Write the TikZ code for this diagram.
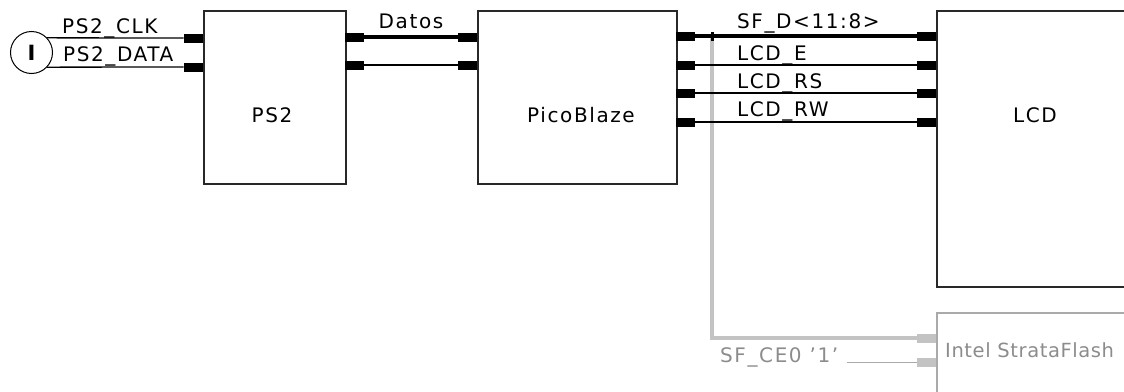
\documentclass[tikz,border=0pt]{standalone}
\usepackage{fontspec}
\setmainfont{DejaVu Sans}[LetterSpace=8]
\usetikzlibrary{positioning}
\definecolor{boxline}{RGB}{40,40,40}
\definecolor{wiregray}{RGB}{195,195,195}
\definecolor{flashgray}{RGB}{170,170,170}
\definecolor{textgray}{RGB}{140,140,140}

\begin{document}
\begin{tikzpicture}[x=1pt, y=-1pt,
    font=\fontsize{20}{24}\selectfont,
    block/.style={rectangle, draw=boxline, line width=1.5pt, anchor=north west, inner sep=0pt},
    pinbox/.style={rectangle, fill=black, minimum width=19pt, minimum height=9pt, inner sep=0pt},
    wire/.style={line width=1.3pt},
    bus/.style={line width=4pt},
    lbl/.style={inner sep=0pt, anchor=base west}]

    \clip (0,0) rectangle (1124,391);

    % Blocks
    \node[block, minimum width=142pt, minimum height=173pt] (ps2) at (203,10) {};
    \node[block, minimum width=199pt, minimum height=173pt] (pico) at (477,10) {};
    \node[block, minimum width=220pt, minimum height=276pt] (lcd) at (936,10) {};
    \node[block, draw=flashgray, minimum width=220pt, minimum height=100pt] (flash) at (936,312) {};

    \node at (272,115) (ps2txt) {PS2};
    \node at (581,115) (picotxt) {PicoBlaze};
    \node at (1035,115) (lcdtxt) {LCD};
    \node[anchor=west, inner sep=0pt, textgray, font=\fontsize{19.5}{24}\selectfont\addfontfeature{LetterSpace=3}] at (945,350) (flashtxt) {Intel StrataFlash};

    % Input
    \node[circle, draw, line width=1pt, minimum size=42pt, inner sep=0pt] (inp) at (31.5,52.5) {};
    \node[font=\fontsize{21}{24}\bfseries] at (inp) (inptxt) {I};

    % Pins
    \node[pinbox, anchor=east] (ps2clk) at (203,38) {};
    \node[pinbox, anchor=east] (ps2dat) at (203,67) {};
    \node[pinbox, anchor=west] (ps2o1) at (345,37) {};
    \node[pinbox, anchor=west] (ps2o2) at (345,65) {};
    \node[pinbox, anchor=east] (picoi1) at (477,37) {};
    \node[pinbox, anchor=east] (picoi2) at (477,65) {};
    \node[pinbox, anchor=west] (picoo1) at (676,36) {};
    \node[pinbox, anchor=west] (picoo2) at (676,65) {};
    \node[pinbox, anchor=west] (picoo3) at (676,93) {};
    \node[pinbox, anchor=west] (picoo4) at (676,122) {};
    \node[pinbox, anchor=east] (lcdi1) at (936,36) {};
    \node[pinbox, anchor=east] (lcdi2) at (936,65) {};
    \node[pinbox, anchor=east] (lcdi3) at (936,93) {};
    \node[pinbox, anchor=east] (lcdi4) at (936,122) {};
    \node[pinbox, anchor=east, fill=wiregray] (flashi1) at (936,338) {};
    \node[pinbox, anchor=east, fill=wiregray] (flashi2) at (936,362) {};

    % Input wires
    \draw[wire] (inp.43) -- (ps2clk.west);
    \draw[wire] (inp.-43) -- (ps2dat.west);
    \node[lbl] at (62,33) (clklbl) {PS2\_CLK};
    \node[lbl] at (63,61) (datlbl) {PS2\_DATA};

    % PS2 -> PicoBlaze
    \draw[bus] (ps2o1.east) -- (picoi1.west);
    \draw[wire] (ps2o2.east) -- (picoi2.west);
    \node[lbl, anchor=base] at (411,28) (datoslbl) {Datos};

    % Flash branch
    \coordinate (tap) at (712,36);
    \draw[bus, wiregray] (tap) |- (flashi1.west);
    \node[lbl, textgray] at (720,362) (celbl) {SF\_CE0 '1'};
    \draw[line width=1pt, flashgray] (celbl.base east) ++(8,0) coordinate (cestart) (cestart) -- (flashi2.west);

    % PicoBlaze -> LCD
    \draw[bus] (picoo1.east) -- (lcdi1.west);
    \draw[wire] (picoo2.east) -- (lcdi2.west);
    \draw[wire] (picoo3.east) -- (lcdi3.west);
    \draw[wire] (picoo4.east) -- (lcdi4.west);
    \node[fill=black, minimum width=3pt, minimum height=9pt, inner sep=0pt] (tapdot) at (tap) {};
    \node[lbl] at (737,28) (sfdlbl) {SF\_D<11:8>};
    \node[lbl] at (737,60) (elbl) {LCD\_E};
    \node[lbl] at (737,88) (rslbl) {LCD\_RS};
    \node[lbl] at (737,116) (rwlbl) {LCD\_RW};
\end{tikzpicture}
\end{document}
